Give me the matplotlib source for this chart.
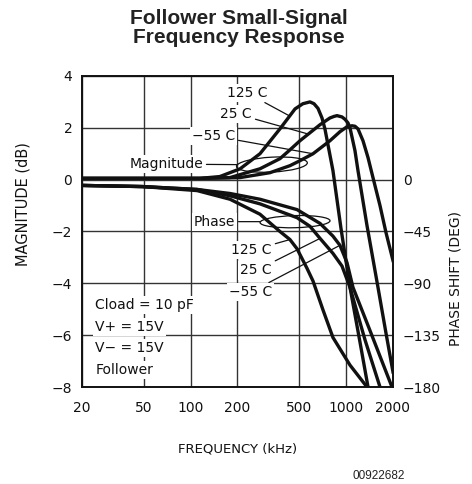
import matplotlib
matplotlib.use("Agg")
import matplotlib.pyplot as plt
from matplotlib.patches import Ellipse
from matplotlib.ticker import NullLocator

# magnitude response (kHz, dB)
mag_125_khz = [20, 49, 115, 154, 208, 279, 375, 469, 527, 585, 621, 659, 699, 730, 822, 926, 1058, 1227, 1382]
mag_125_db = [0.05, 0.05, 0.05, 0.12, 0.42, 1.0, 1.96, 2.73, 2.93, 3.0, 2.93, 2.75, 2.38, 1.96, 0.35, -1.88, -4.15, -6.27, -8.0]

mag_25_khz = [20, 115, 179, 279, 375, 435, 504, 585, 679, 786, 835, 873, 940, 982, 1027, 1058, 1139, 1191, 1361, 1601, 1803, 2000]
mag_25_db = [0.05, 0.05, 0.08, 0.42, 0.81, 1.15, 1.5, 1.81, 2.12, 2.38, 2.44, 2.47, 2.42, 2.33, 2.19, 2.0, 1.12, 0.35, -1.77, -4.15, -5.92, -7.42]

mag_m55_khz = [20, 115, 208, 324, 435, 504, 612, 786, 912, 1012, 1090, 1140, 1191, 1283, 1382, 1487, 1650, 1803, 2000]
mag_m55_db = [0.05, 0.05, 0.08, 0.27, 0.54, 0.73, 1.0, 1.5, 1.85, 2.04, 2.08, 2.06, 1.96, 1.5, 0.85, 0.08, -1.0, -2.04, -3.12]

# phase response (kHz, degrees)
ph_125_khz = [20, 49, 110, 179, 279, 375, 435, 483, 560, 612, 709, 822, 1058, 1361]
ph_125_deg = [-5, -6, -9.5, -17, -30, -45, -52, -60, -77, -88, -113, -137, -161, -180]

ph_25_khz = [20, 49, 110, 179, 279, 483, 585, 679, 822, 940, 1058, 1321, 1650]
ph_25_deg = [-5, -6, -8.5, -14, -21, -33, -40.5, -51, -64, -75, -93.5, -139, -180]

ph_m55_khz = [20, 49, 110, 179, 279, 483, 679, 822, 912, 1012, 1106, 1423, 1970]
ph_m55_deg = [-5, -6, -8.5, -12, -17, -26, -38, -49, -57, -72, -93.5, -131, -180]

freq_ticks = [20, 50, 100, 200, 500, 1000, 2000]
freq_labels = ["20", "50", "100", "200", "500", "1000", "2000"]
mag_ticks = [4, 2, 0, -2, -4, -6, -8]
mag_labels = ["4", "2", "0", "\u22122", "\u22124", "\u22126", "\u22128"]
phase_ticks = [0, -45, -90, -135, -180]
phase_labels = ["0", "\u221245", "\u221290", "\u2212135", "\u2212180"]
conditions = ["Cload = 10 pF", "V+ = 15V", "V\u2212 = 15V", "Follower"]

plt.rcParams["font.family"] = "DejaVu Sans"
INK = "#111111"
CURVE_LW = 2.4
LEAD_LW = 0.9

fig = plt.figure(figsize=(4.72, 4.84), dpi=100)
ax = fig.add_axes([0.1737, 0.2004, 0.6589, 0.6426])
ax.set_xscale("log")
ax.set_xlim(20, 2000)
ax.set_ylim(-8, 4)
ax.xaxis.set_minor_locator(NullLocator())
ax.set_xticks(freq_ticks, freq_labels)
ax.set_yticks(mag_ticks, mag_labels)
ax.tick_params(length=0, labelsize=10, colors=INK)
ax.tick_params(axis="y", pad=7)
ax.tick_params(axis="x", pad=10)
ax.set_axisbelow(True)
ax.grid(True, color="#333333", lw=1.0)
for sp in ax.spines.values():
    sp.set_linewidth(1.2)
    sp.set_color(INK)

ax2 = ax.twinx()
ax2.set_ylim(-180, 90)
ax2.set_yticks(phase_ticks, phase_labels)
ax2.tick_params(length=0, labelsize=10, pad=7, colors=INK)
for sp in ax2.spines.values():
    sp.set_linewidth(1.2)
    sp.set_color(INK)

# curves
for f, m in [(mag_125_khz, mag_125_db), (mag_25_khz, mag_25_db), (mag_m55_khz, mag_m55_db)]:
    ax.plot(f, m, color=INK, lw=CURVE_LW, zorder=3, solid_joinstyle="round")
for f, p in [(ph_125_khz, ph_125_deg), (ph_25_khz, ph_25_deg), (ph_m55_khz, ph_m55_deg)]:
    ax2.plot(f, p, color=INK, lw=CURVE_LW, zorder=3, solid_joinstyle="round")

# axis labels
ax.set_ylabel("MAGNITUDE (dB)", fontsize=10.5, color=INK)
ax.yaxis.set_label_coords(-0.165, 0.588)
ax2.set_ylabel("PHASE SHIFT (DEG)", fontsize=10, color=INK)
ax2.yaxis.set_label_coords(1.177, 0.35)
ax.set_xlabel("FREQUENCY (kHz)", fontsize=9.5, color=INK)
ax.xaxis.set_label_coords(0.5, -0.178)

box = dict(facecolor="white", edgecolor="none", pad=1.5)
lead = dict(arrowstyle="-", lw=LEAD_LW, color=INK, shrinkA=1, shrinkB=0)
txt = dict(fontsize=10, color=INK, ha="right", va="center", bbox=box, zorder=2.6)

# group ellipses
to_axes = ax.transData + ax.transAxes.inverted()
cx, cy = to_axes.transform((333, 0.58))
ax.add_patch(Ellipse((cx, cy), 0.228, 0.048, angle=3, transform=ax.transAxes,
                     fill=False, lw=LEAD_LW, ec=INK, zorder=2.7))
cx, cy = to_axes.transform((469, -1.62))
ax.add_patch(Ellipse((cx, cy), 0.225, 0.039, angle=1.5, transform=ax.transAxes,
                     fill=False, lw=LEAD_LW, ec=INK, zorder=2.7))

ax.annotate("Magnitude", xy=(199, 0.58), xytext=(120, 0.6), arrowprops=lead, **txt)
ax.annotate("Phase", xy=(279, -1.62), xytext=(193, -1.62), arrowprops=lead, **txt)

# temperature call-outs, magnitude
ax.annotate("125 C", xy=(435, 2.45), xytext=(310, 3.35), arrowprops=lead, **txt)
ax.annotate("25 C", xy=(570, 1.76), xytext=(248, 2.54), arrowprops=lead, **txt)
ax.annotate("\u221255 C", xy=(612, 1.0), xytext=(193, 1.69), arrowprops=lead, **txt)

# temperature call-outs, phase
ax2.annotate("125 C", xy=(435, -52), xytext=(333, -61.4), arrowprops=lead, **txt)
ax2.annotate("25 C", xy=(679, -51), xytext=(333, -78.8), arrowprops=lead, **txt)
ax2.annotate("\u221255 C", xy=(912, -57), xytext=(333, -97.8), arrowprops=lead, **txt)

# test conditions
for line, y in zip(conditions, [-4.85, -5.69, -6.5, -7.35]):
    ax.text(24.3, y, line, fontsize=10, color=INK, ha="left", va="center",
            bbox=box, zorder=2.6)

fig.text(0.506, 1 - 9 / 484, "Follower Small-Signal\nFrequency Response",
         ha="center", va="top", fontsize=15, fontweight="bold",
         family="Liberation Sans", linespacing=1.0, color="#222222")
fig.text(405 / 472, 1 - 476 / 484, "00922682", ha="right", va="center",
         fontsize=8.5, family="Liberation Sans", color="#222222")

fig.savefig("out.png", dpi=100, facecolor="white")
